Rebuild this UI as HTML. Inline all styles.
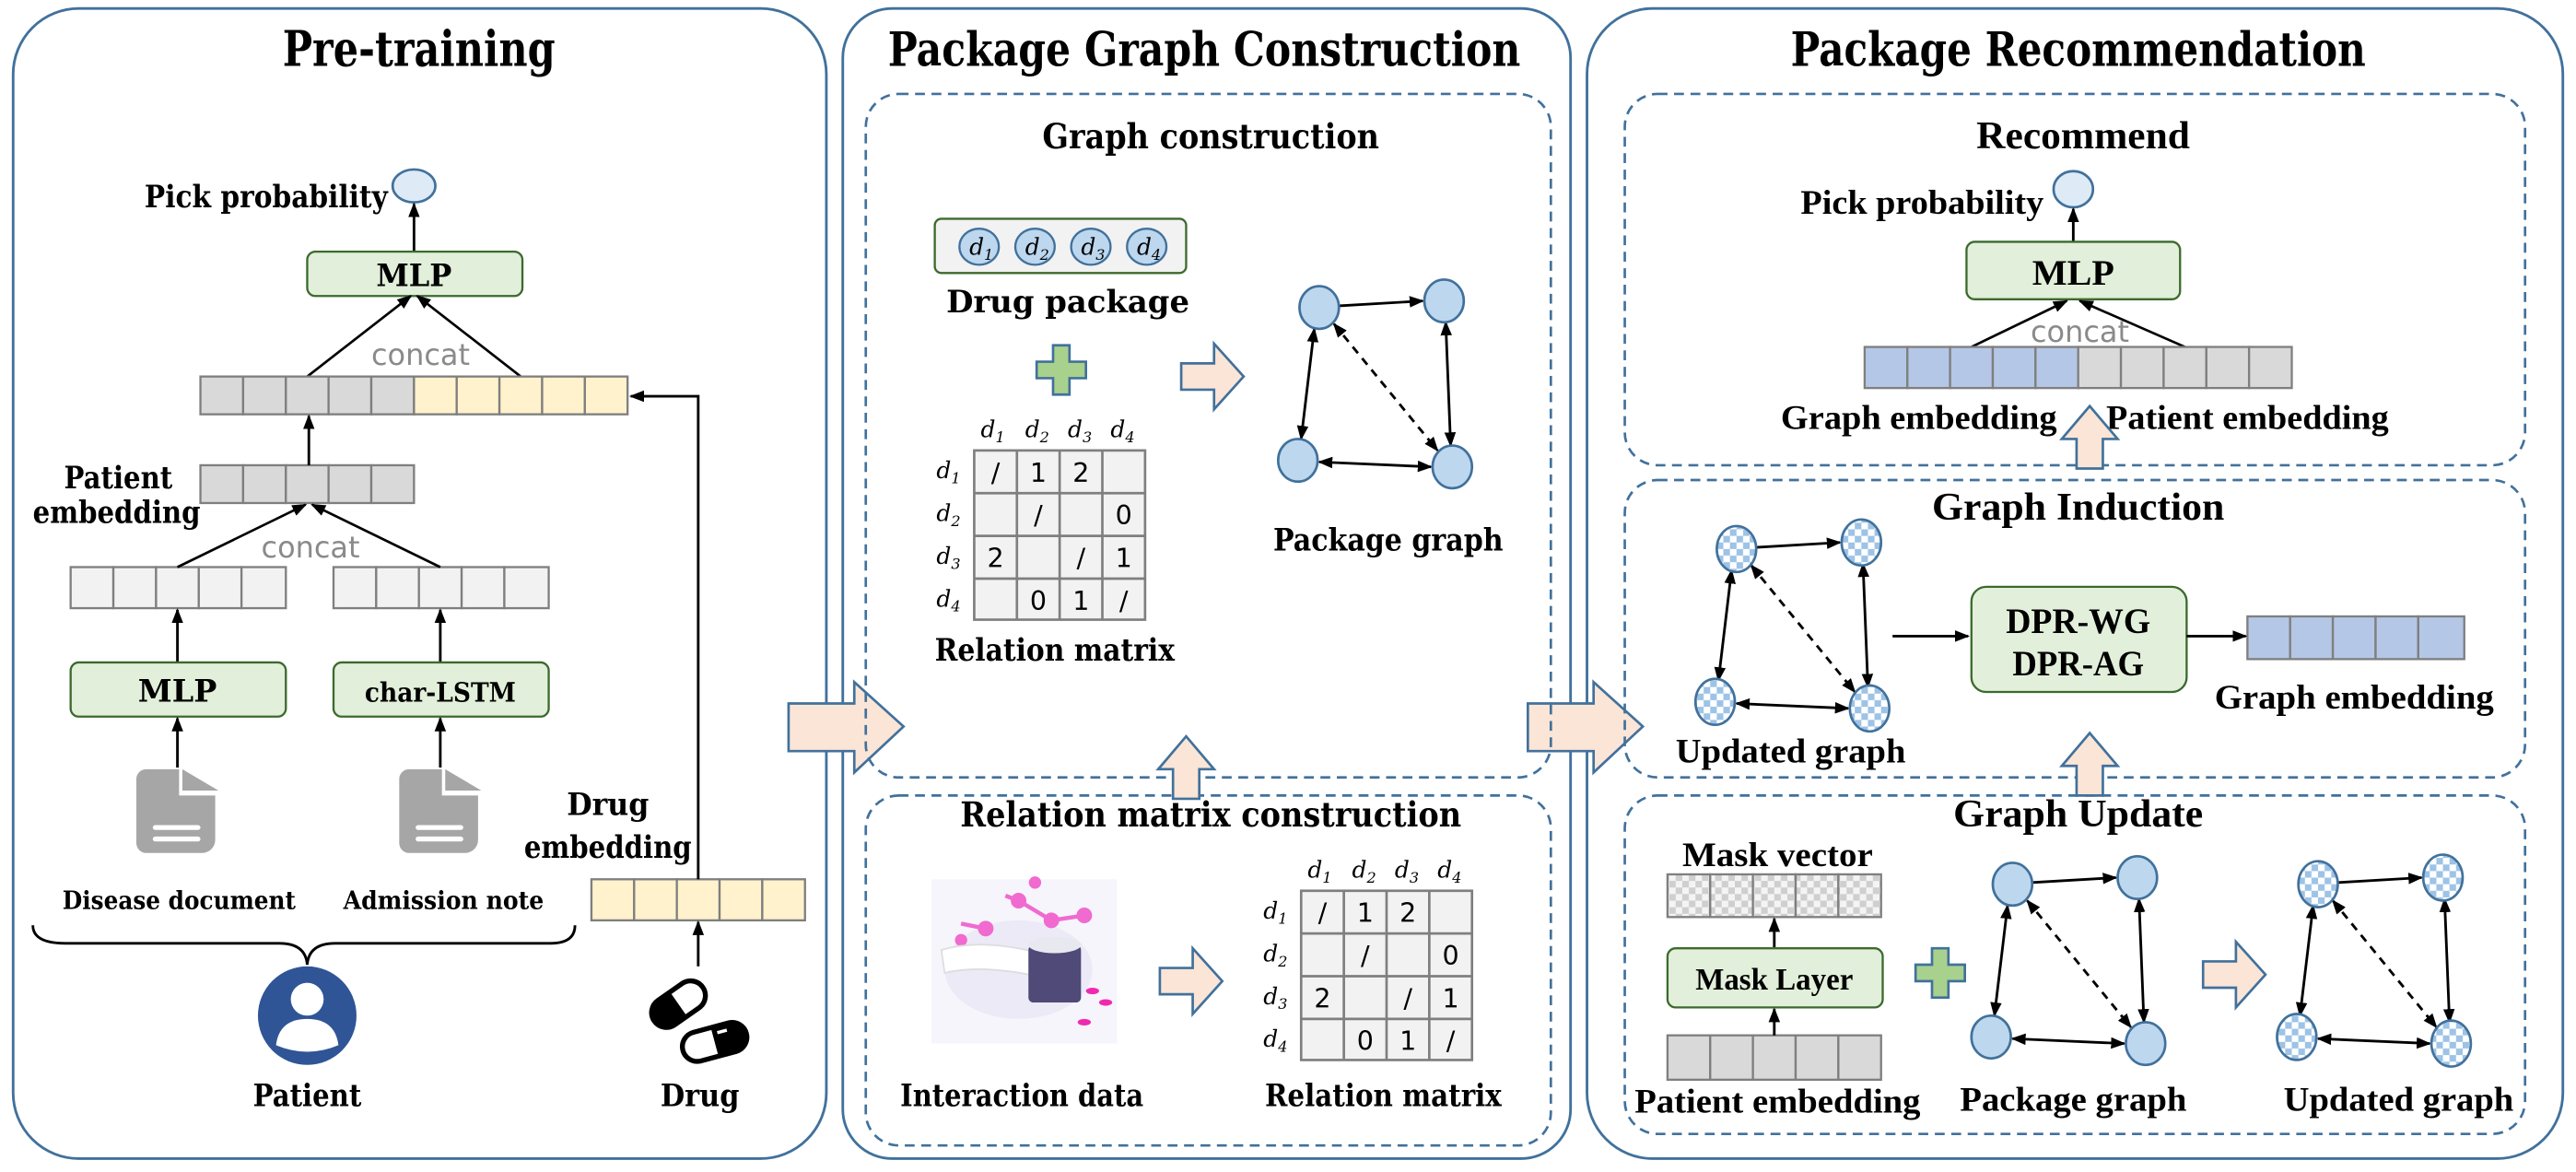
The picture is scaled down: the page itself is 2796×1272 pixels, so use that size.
<!DOCTYPE html>
<html><head><meta charset="utf-8"><style>
html,body{margin:0;padding:0;background:#fff;width:2796px;height:1272px;overflow:hidden}
svg{display:block}
text{font-family:"DejaVu Serif","Liberation Serif",serif;font-weight:bold;fill:#000}
.c{font-family:"Liberation Serif",serif;font-weight:bold}
.it{font-family:"DejaVu Serif",serif;font-style:italic;font-weight:normal}
.n{font-family:"DejaVu Sans",sans-serif;font-weight:normal}
</style></head><body>
<svg width="2796" height="1272" viewBox="0 0 1568 713" xmlns="http://www.w3.org/2000/svg">
<defs>
<marker id="ah" markerWidth="9" markerHeight="9" refX="8" refY="4.5" orient="auto-start-reverse" markerUnits="userSpaceOnUse"><path d="M0,1 L9,4.5 L0,8 Z" fill="#000"/></marker>
<pattern id="chk" width="8" height="8" patternUnits="userSpaceOnUse"><rect width="8" height="8" fill="#fff"/><rect width="4" height="4" fill="#9dc3e6"/><rect x="4" y="4" width="4" height="4" fill="#9dc3e6"/></pattern>
<pattern id="chkg" width="8" height="8" patternUnits="userSpaceOnUse"><rect width="8" height="8" fill="#f4f4f4"/><rect width="4" height="4" fill="#cfcfcf"/><rect x="4" y="4" width="4" height="4" fill="#cfcfcf"/></pattern>
<g id="edges" stroke="#000" stroke-width="1.6" fill="none">
<line x1="12" y1="-1" x2="63" y2="-4" marker-end="url(#ah)"/>
<line x1="-3" y1="13" x2="-11" y2="80" marker-start="url(#ah)" marker-end="url(#ah)"/>
<line x1="77" y1="9" x2="80" y2="84" marker-start="url(#ah)" marker-end="url(#ah)"/>
<line x1="0" y1="94" x2="68" y2="97" marker-start="url(#ah)" marker-end="url(#ah)"/>
<line x1="9" y1="10" x2="72" y2="87" stroke-dasharray="5,4" marker-start="url(#ah)" marker-end="url(#ah)"/>
</g>
<g id="nodesP" fill="#bdd7ee" stroke="#41719c" stroke-width="1.5">
<ellipse cx="0" cy="0" rx="12" ry="13"/><ellipse cx="76" cy="-4" rx="12" ry="13"/><ellipse cx="-13" cy="93" rx="12" ry="13"/><ellipse cx="81" cy="97" rx="12" ry="13"/>
</g>
<g id="nodesC" fill="url(#chk)" stroke="#41719c" stroke-width="1.5">
<ellipse cx="0" cy="0" rx="12" ry="14"/><ellipse cx="76" cy="-4" rx="12" ry="14"/><ellipse cx="-13" cy="93" rx="12" ry="14"/><ellipse cx="81" cy="97" rx="12" ry="14"/>
</g>
<g id="doc"><path d="M-25,-20 a6,6 0 0 1 6,-6 h20 v16 h22 v27 a8,8 0 0 1 -8,8 h-34 a6,6 0 0 1 -6,-6 Z" fill="#a6a6a6"/><path d="M3,-26 L25,-13 H3 Z" fill="#a6a6a6"/><rect x="-15" y="8" width="29" height="3" rx="1.5" fill="#fff"/><rect x="-15" y="15" width="29" height="3" rx="1.5" fill="#fff"/></g>
<path id="rarr" d="M0,-8 H20 V-20 L38,0 L20,20 V8 H0 Z" fill="#fbe5d6" stroke="#41719c" stroke-width="1.5"/>
<path id="uarr" d="M-8,20 V2 H-17 L0,-18 L17,2 H8 V20 Z" fill="#fbe5d6" stroke="#41719c" stroke-width="1.5"/>
<path id="plus" d="M-5,-15 H5 V-5 H15 V5 H5 V15 H-5 V5 H-15 V-5 H-5 Z" fill="#a9d18e" stroke="#41719c" stroke-width="1.5"/>
</defs>

<!-- panels -->
<rect x="8" y="5" width="495" height="700" rx="40" fill="none" stroke="#41719c" stroke-width="1.6"/>
<rect x="513" y="5" width="443" height="700" rx="30" fill="none" stroke="#41719c" stroke-width="1.6"/>
<rect x="966" y="5" width="594" height="700" rx="40" fill="none" stroke="#41719c" stroke-width="1.6"/>
<text x="255" y="40" text-anchor="middle" font-size="30" textLength="166" lengthAdjust="spacingAndGlyphs">Pre-training</text>
<text x="733" y="40" text-anchor="middle" font-size="29" textLength="385" lengthAdjust="spacingAndGlyphs">Package Graph Construction</text>
<text x="1265" y="40" text-anchor="middle" font-size="29" textLength="350" lengthAdjust="spacingAndGlyphs">Package Recommendation</text>

<!-- LEFT -->
<text x="162" y="126" text-anchor="middle" font-size="19" textLength="148" lengthAdjust="spacingAndGlyphs">Pick probability</text>
<ellipse cx="252" cy="113" rx="13" ry="10" fill="#deebf7" stroke="#41719c" stroke-width="1.5"/>
<line x1="252" y1="153" x2="252" y2="124" stroke="#000" stroke-width="1.6" marker-end="url(#ah)"/>
<rect x="187" y="153" width="131" height="27" rx="5" fill="#e2efda" stroke="#3c6a2e" stroke-width="1.3"/>
<text x="252" y="174" text-anchor="middle" font-size="19" textLength="46" lengthAdjust="spacingAndGlyphs">MLP</text>
<text x="256" y="222" text-anchor="middle" class="n" font-size="18" style="fill:#8a8a8a" textLength="60" lengthAdjust="spacingAndGlyphs">concat</text>
<line x1="187" y1="229" x2="250" y2="180" stroke="#000" stroke-width="1.5" marker-end="url(#ah)"/>
<line x1="317" y1="229" x2="254" y2="180" stroke="#000" stroke-width="1.5" marker-end="url(#ah)"/>
<g stroke="#7f7f7f" stroke-width="1.3">
<rect x="122" y="229" width="26" height="23" fill="#d9d9d9"/><rect x="148" y="229" width="26" height="23" fill="#d9d9d9"/><rect x="174" y="229" width="26" height="23" fill="#d9d9d9"/><rect x="200" y="229" width="26" height="23" fill="#d9d9d9"/><rect x="226" y="229" width="26" height="23" fill="#d9d9d9"/>
<rect x="252" y="229" width="26" height="23" fill="#fff2cc"/><rect x="278" y="229" width="26" height="23" fill="#fff2cc"/><rect x="304" y="229" width="26" height="23" fill="#fff2cc"/><rect x="330" y="229" width="26" height="23" fill="#fff2cc"/><rect x="356" y="229" width="26" height="23" fill="#fff2cc"/>
<rect x="122" y="283" width="26" height="23" fill="#d9d9d9"/><rect x="148" y="283" width="26" height="23" fill="#d9d9d9"/><rect x="174" y="283" width="26" height="23" fill="#d9d9d9"/><rect x="200" y="283" width="26" height="23" fill="#d9d9d9"/><rect x="226" y="283" width="26" height="23" fill="#d9d9d9"/>
<rect x="43" y="345" width="26" height="25" fill="#f2f2f2"/><rect x="69" y="345" width="26" height="25" fill="#f2f2f2"/><rect x="95" y="345" width="26" height="25" fill="#f2f2f2"/><rect x="121" y="345" width="26" height="25" fill="#f2f2f2"/><rect x="147" y="345" width="27" height="25" fill="#f2f2f2"/>
<rect x="203" y="345" width="26" height="25" fill="#f2f2f2"/><rect x="229" y="345" width="26" height="25" fill="#f2f2f2"/><rect x="255" y="345" width="26" height="25" fill="#f2f2f2"/><rect x="281" y="345" width="26" height="25" fill="#f2f2f2"/><rect x="307" y="345" width="27" height="25" fill="#f2f2f2"/>
<rect x="360" y="535" width="26" height="25" fill="#fff2cc"/><rect x="386" y="535" width="26" height="25" fill="#fff2cc"/><rect x="412" y="535" width="26" height="25" fill="#fff2cc"/><rect x="438" y="535" width="26" height="25" fill="#fff2cc"/><rect x="464" y="535" width="26" height="25" fill="#fff2cc"/>
</g>
<line x1="188" y1="283" x2="188" y2="253" stroke="#000" stroke-width="1.6" marker-end="url(#ah)"/>
<text x="72" y="297" text-anchor="middle" font-size="19" textLength="66" lengthAdjust="spacingAndGlyphs">Patient</text>
<text x="71" y="318" text-anchor="middle" font-size="19" textLength="102" lengthAdjust="spacingAndGlyphs">embedding</text>
<text x="189" y="339" text-anchor="middle" class="n" font-size="18" style="fill:#8a8a8a" textLength="60" lengthAdjust="spacingAndGlyphs">concat</text>
<line x1="108" y1="345" x2="186" y2="307" stroke="#000" stroke-width="1.5" marker-end="url(#ah)"/>
<line x1="268" y1="345" x2="190" y2="307" stroke="#000" stroke-width="1.5" marker-end="url(#ah)"/>
<line x1="108" y1="403" x2="108" y2="371" stroke="#000" stroke-width="1.6" marker-end="url(#ah)"/>
<line x1="268" y1="403" x2="268" y2="371" stroke="#000" stroke-width="1.6" marker-end="url(#ah)"/>
<rect x="43" y="403" width="131" height="33" rx="5" fill="#e2efda" stroke="#3c6a2e" stroke-width="1.3"/>
<text x="108" y="427" text-anchor="middle" font-size="19" textLength="48" lengthAdjust="spacingAndGlyphs">MLP</text>
<rect x="203" y="403" width="131" height="33" rx="5" fill="#e2efda" stroke="#3c6a2e" stroke-width="1.3"/>
<text x="268" y="427" text-anchor="middle" font-size="16" textLength="92" lengthAdjust="spacingAndGlyphs">char-LSTM</text>
<line x1="108" y1="467" x2="108" y2="437" stroke="#000" stroke-width="1.6" marker-end="url(#ah)"/>
<line x1="268" y1="467" x2="268" y2="437" stroke="#000" stroke-width="1.6" marker-end="url(#ah)"/>
<use href="#doc" x="108" y="494"/>
<use href="#doc" x="268" y="494"/>
<text x="109" y="553" text-anchor="middle" font-size="15" textLength="142" lengthAdjust="spacingAndGlyphs">Disease document</text>
<text x="270" y="553" text-anchor="middle" font-size="15" textLength="122" lengthAdjust="spacingAndGlyphs">Admission note</text>
<path d="M20,563 Q20,574 40,574 H170 Q186,574 187,587 Q188,574 204,574 H335 Q350,574 350,563" fill="none" stroke="#000" stroke-width="1.6"/>
<circle cx="187" cy="618" r="30" fill="#2f5597"/>
<circle cx="187" cy="608" r="10" fill="#fff"/>
<path d="M168,636 Q170,620 187,620 Q204,620 206,636 Q187,644 168,636 Z" fill="#fff"/>
<text x="187" y="673" text-anchor="middle" font-size="19" textLength="66" lengthAdjust="spacingAndGlyphs">Patient</text>
<text x="370" y="496" text-anchor="middle" font-size="19" textLength="50" lengthAdjust="spacingAndGlyphs">Drug</text>
<text x="370" y="522" text-anchor="middle" font-size="19" textLength="102" lengthAdjust="spacingAndGlyphs">embedding</text>
<polyline points="425,535 425,241 384,241" fill="none" stroke="#000" stroke-width="1.6" marker-end="url(#ah)"/>
<line x1="425" y1="588" x2="425" y2="561" stroke="#000" stroke-width="1.6" marker-end="url(#ah)"/>
<g transform="translate(413,611) rotate(-35)"><rect x="-18" y="-9" width="36" height="18" rx="9" fill="#fff" stroke="#000" stroke-width="3"/><path d="M0,-9 H-9 a9,9 0 0 0 0,18 H0 Z" fill="#000"/></g>
<g transform="translate(435,634) rotate(-15)"><rect x="-20" y="-9" width="40" height="18" rx="9" fill="#fff" stroke="#000" stroke-width="3"/><path d="M0,-9 H11 a9,9 0 0 1 0,18 H0 Z" fill="#000"/><path d="M3,-5 H9" stroke="#fff" stroke-width="2"/></g>
<text x="426" y="673" text-anchor="middle" font-size="19" textLength="48" lengthAdjust="spacingAndGlyphs">Drug</text>

<!-- big arrows -->
<path d="M480,428 H520 V415 L550,442 L520,470 V457 H480 Z" fill="#fbe5d6" stroke="#41719c" stroke-width="1.5"/>
<path d="M930,428 H970 V415 L1000,442 L970,470 V457 H930 Z" fill="#fbe5d6" stroke="#41719c" stroke-width="1.5"/>

<!-- MIDDLE -->
<rect x="527" y="57" width="417" height="416" rx="20" fill="none" stroke="#41719c" stroke-width="1.5" stroke-dasharray="6,4"/>
<rect x="527" y="484" width="417" height="213" rx="20" fill="none" stroke="#41719c" stroke-width="1.5" stroke-dasharray="6,4"/>
<text x="737" y="90" text-anchor="middle" font-size="21" textLength="205" lengthAdjust="spacingAndGlyphs">Graph construction</text>
<rect x="569" y="133" width="153" height="33" rx="4" fill="#f2f2f2" stroke="#3c6a2e" stroke-width="1.3"/>
<g fill="#bdd7ee" stroke="#41719c" stroke-width="1.3"><ellipse cx="596" cy="150" rx="12" ry="11"/><ellipse cx="630" cy="150" rx="12" ry="11"/><ellipse cx="664" cy="150" rx="12" ry="11"/><ellipse cx="698" cy="150" rx="12" ry="11"/></g>
<g font-size="14" class="it"><text class="it" x="590" y="155">d<tspan font-size="9" dy="3">1</tspan></text><text class="it" x="624" y="155">d<tspan font-size="9" dy="3">2</tspan></text><text class="it" x="658" y="155">d<tspan font-size="9" dy="3">3</tspan></text><text class="it" x="692" y="155">d<tspan font-size="9" dy="3">4</tspan></text></g>
<text x="650" y="190" text-anchor="middle" font-size="19" textLength="148" lengthAdjust="spacingAndGlyphs">Drug package</text>
<use href="#plus" x="646" y="225"/>
<use href="#rarr" x="719" y="229"/>
<g id="mat">
<g class="it" font-size="14"><text class="it" x="597" y="266">d<tspan font-size="9" dy="3">1</tspan></text><text class="it" x="624" y="266">d<tspan font-size="9" dy="3">2</tspan></text><text class="it" x="650" y="266">d<tspan font-size="9" dy="3">3</tspan></text><text class="it" x="676" y="266">d<tspan font-size="9" dy="3">4</tspan></text>
<text class="it" x="570" y="291">d<tspan font-size="9" dy="3">1</tspan></text><text class="it" x="570" y="317">d<tspan font-size="9" dy="3">2</tspan></text><text class="it" x="570" y="343">d<tspan font-size="9" dy="3">3</tspan></text><text class="it" x="570" y="369">d<tspan font-size="9" dy="3">4</tspan></text></g>
<rect x="593" y="274" width="104" height="103" fill="#f2f2f2" stroke="#7f7f7f" stroke-width="1.5"/>
<path d="M619,274 V377 M645,274 V377 M671,274 V377 M593,300 H697 M593,326 H697 M593,352 H697" stroke="#7f7f7f" stroke-width="1.5"/>
<g class="n" font-size="16" text-anchor="middle">
<text class="n" x="606" y="293">/</text><text class="n" x="632" y="293">1</text><text class="n" x="658" y="293">2</text>
<text class="n" x="632" y="319">/</text><text class="n" x="684" y="319">0</text>
<text class="n" x="606" y="345">2</text><text class="n" x="658" y="345">/</text><text class="n" x="684" y="345">1</text>
<text class="n" x="632" y="371">0</text><text class="n" x="658" y="371">1</text><text class="n" x="684" y="371">/</text>
</g>
</g>
<text x="642" y="402" text-anchor="middle" font-size="19" textLength="146" lengthAdjust="spacingAndGlyphs">Relation matrix</text>
<use href="#edges" x="803" y="187"/><use href="#nodesP" x="803" y="187"/>
<text x="845" y="335" text-anchor="middle" font-size="19" textLength="140" lengthAdjust="spacingAndGlyphs">Package graph</text>
<use href="#uarr" x="722" y="466"/>
<text x="737" y="503" text-anchor="middle" font-size="21" textLength="305" lengthAdjust="spacingAndGlyphs">Relation matrix construction</text>
<rect x="567" y="535" width="113" height="100" fill="#f6f5fb"/>
<ellipse cx="620" cy="590" rx="45" ry="30" fill="#eceaf6"/>
<g stroke="#f06ad0" stroke-width="2.5" fill="#f06ad0"><line x1="620" y1="548" x2="640" y2="560"/><line x1="640" y1="560" x2="660" y2="557"/><line x1="620" y1="548" x2="612" y2="545"/><line x1="585" y1="562" x2="600" y2="565"/><circle cx="620" cy="548" r="3.5"/><circle cx="640" cy="560" r="3.5"/><circle cx="660" cy="557" r="3.5"/><circle cx="600" cy="565" r="3.5"/><circle cx="585" cy="572" r="2.5"/><circle cx="630" cy="537" r="2.5"/></g>
<path d="M573,578 Q600,570 640,582 L640,596 Q600,586 575,592 Z" fill="#fff" stroke="#ddd" stroke-width="1"/>
<rect x="626" y="575" width="32" height="35" rx="3" fill="#4f4a78"/>
<ellipse cx="642" cy="575" rx="16" ry="5" fill="#e8e8f0"/>
<ellipse cx="665" cy="603" rx="4" ry="2" fill="#f02ab0"/><ellipse cx="673" cy="610" rx="4" ry="2" fill="#f02ab0"/><ellipse cx="660" cy="622" rx="4" ry="2" fill="#f02ab0"/>
<text x="622" y="673" text-anchor="middle" font-size="19" textLength="148" lengthAdjust="spacingAndGlyphs">Interaction data</text>
<use href="#rarr" x="706" y="597"/>
<use href="#mat" x="199" y="268"/>
<text x="842" y="673" text-anchor="middle" font-size="19" textLength="144" lengthAdjust="spacingAndGlyphs">Relation matrix</text>

<!-- RIGHT -->
<rect x="989" y="57" width="548" height="226" rx="20" fill="none" stroke="#41719c" stroke-width="1.5" stroke-dasharray="6,4"/>
<rect x="989" y="292" width="548" height="181" rx="20" fill="none" stroke="#41719c" stroke-width="1.5" stroke-dasharray="6,4"/>
<rect x="989" y="484" width="548" height="206" rx="20" fill="none" stroke="#41719c" stroke-width="1.5" stroke-dasharray="6,4"/>
<text x="1268" y="90" text-anchor="middle" class="c" font-size="24" textLength="130" lengthAdjust="spacingAndGlyphs">Recommend</text>
<text x="1170" y="130" text-anchor="middle" class="c" font-size="21" textLength="148" lengthAdjust="spacingAndGlyphs">Pick probability</text>
<ellipse cx="1262" cy="115" rx="12" ry="11" fill="#deebf7" stroke="#41719c" stroke-width="1.5"/>
<line x1="1262" y1="147" x2="1262" y2="127" stroke="#000" stroke-width="1.6" marker-end="url(#ah)"/>
<rect x="1197" y="147" width="130" height="35" rx="5" fill="#e2efda" stroke="#3c6a2e" stroke-width="1.3"/>
<text x="1262" y="173" text-anchor="middle" class="c" font-size="22" textLength="50" lengthAdjust="spacingAndGlyphs">MLP</text>
<text x="1266" y="208" text-anchor="middle" class="n" font-size="18" style="fill:#8a8a8a" textLength="60" lengthAdjust="spacingAndGlyphs">concat</text>
<line x1="1200" y1="211" x2="1258" y2="183" stroke="#000" stroke-width="1.5" marker-end="url(#ah)"/>
<line x1="1330" y1="211" x2="1266" y2="183" stroke="#000" stroke-width="1.5" marker-end="url(#ah)"/>
<g stroke="#7f7f7f" stroke-width="1.3">
<rect x="1135" y="211" width="26" height="25" fill="#b4c7e7"/><rect x="1161" y="211" width="26" height="25" fill="#b4c7e7"/><rect x="1187" y="211" width="26" height="25" fill="#b4c7e7"/><rect x="1213" y="211" width="26" height="25" fill="#b4c7e7"/><rect x="1239" y="211" width="26" height="25" fill="#b4c7e7"/>
<rect x="1265" y="211" width="26" height="25" fill="#d9d9d9"/><rect x="1291" y="211" width="26" height="25" fill="#d9d9d9"/><rect x="1317" y="211" width="26" height="25" fill="#d9d9d9"/><rect x="1343" y="211" width="26" height="25" fill="#d9d9d9"/><rect x="1369" y="211" width="26" height="25" fill="#d9d9d9"/>
<rect x="1368" y="375" width="26" height="26" fill="#b4c7e7"/><rect x="1394" y="375" width="26" height="26" fill="#b4c7e7"/><rect x="1420" y="375" width="26" height="26" fill="#b4c7e7"/><rect x="1446" y="375" width="26" height="26" fill="#b4c7e7"/><rect x="1472" y="375" width="28" height="26" fill="#b4c7e7"/>
<rect x="1015" y="532" width="26" height="26" fill="url(#chkg)"/><rect x="1041" y="532" width="26" height="26" fill="url(#chkg)"/><rect x="1067" y="532" width="26" height="26" fill="url(#chkg)"/><rect x="1093" y="532" width="26" height="26" fill="url(#chkg)"/><rect x="1119" y="532" width="26" height="26" fill="url(#chkg)"/>
<rect x="1015" y="630" width="26" height="27" fill="#d9d9d9"/><rect x="1041" y="630" width="26" height="27" fill="#d9d9d9"/><rect x="1067" y="630" width="26" height="27" fill="#d9d9d9"/><rect x="1093" y="630" width="26" height="27" fill="#d9d9d9"/><rect x="1119" y="630" width="26" height="27" fill="#d9d9d9"/>
</g>
<text x="1168" y="261" text-anchor="middle" class="c" font-size="21" textLength="168" lengthAdjust="spacingAndGlyphs">Graph embedding</text>
<text x="1368" y="261" text-anchor="middle" class="c" font-size="21" textLength="172" lengthAdjust="spacingAndGlyphs">Patient embedding</text>
<use href="#uarr" x="1272" y="265"/>
<text x="1265" y="316" text-anchor="middle" class="c" font-size="24" textLength="178" lengthAdjust="spacingAndGlyphs">Graph Induction</text>
<use href="#edges" x="1057" y="334"/><use href="#nodesC" x="1057" y="334"/>
<text x="1090" y="464" text-anchor="middle" class="c" font-size="21" textLength="140" lengthAdjust="spacingAndGlyphs">Updated graph</text>
<line x1="1152" y1="387" x2="1198" y2="387" stroke="#000" stroke-width="1.6" marker-end="url(#ah)"/>
<rect x="1200" y="357" width="131" height="64" rx="9" fill="#e2efda" stroke="#3c6a2e" stroke-width="1.3"/>
<text x="1265" y="385" text-anchor="middle" class="c" font-size="22" textLength="88" lengthAdjust="spacingAndGlyphs">DPR-WG</text>
<text x="1265" y="411" text-anchor="middle" class="c" font-size="22" textLength="80" lengthAdjust="spacingAndGlyphs">DPR-AG</text>
<line x1="1331" y1="387" x2="1367" y2="387" stroke="#000" stroke-width="1.6" marker-end="url(#ah)"/>
<text x="1433" y="431" text-anchor="middle" class="c" font-size="21" textLength="170" lengthAdjust="spacingAndGlyphs">Graph embedding</text>
<use href="#uarr" x="1272" y="464"/>
<text x="1265" y="503" text-anchor="middle" class="c" font-size="24" textLength="152" lengthAdjust="spacingAndGlyphs">Graph Update</text>
<text x="1082" y="527" text-anchor="middle" class="c" font-size="21" textLength="116" lengthAdjust="spacingAndGlyphs">Mask vector</text>
<line x1="1080" y1="577" x2="1080" y2="559" stroke="#000" stroke-width="1.6" marker-end="url(#ah)"/>
<rect x="1015" y="577" width="131" height="36" rx="5" fill="#e2efda" stroke="#3c6a2e" stroke-width="1.3"/>
<text x="1080" y="602" text-anchor="middle" class="c" font-size="19" textLength="96" lengthAdjust="spacingAndGlyphs">Mask Layer</text>
<line x1="1080" y1="630" x2="1080" y2="614" stroke="#000" stroke-width="1.6" marker-end="url(#ah)"/>
<text x="1082" y="677" text-anchor="middle" class="c" font-size="21" textLength="174" lengthAdjust="spacingAndGlyphs">Patient embedding</text>
<use href="#plus" x="1181" y="592"/>
<use href="#edges" x="1225" y="538"/><use href="#nodesP" x="1225" y="538"/>
<text x="1262" y="676" text-anchor="middle" class="c" font-size="21" textLength="138" lengthAdjust="spacingAndGlyphs">Package graph</text>
<use href="#rarr" x="1341" y="593"/>
<use href="#edges" x="1411" y="538"/><use href="#nodesC" x="1411" y="538"/>
<text x="1460" y="676" text-anchor="middle" class="c" font-size="21" textLength="140" lengthAdjust="spacingAndGlyphs">Updated graph</text>
</svg>
</body></html>
